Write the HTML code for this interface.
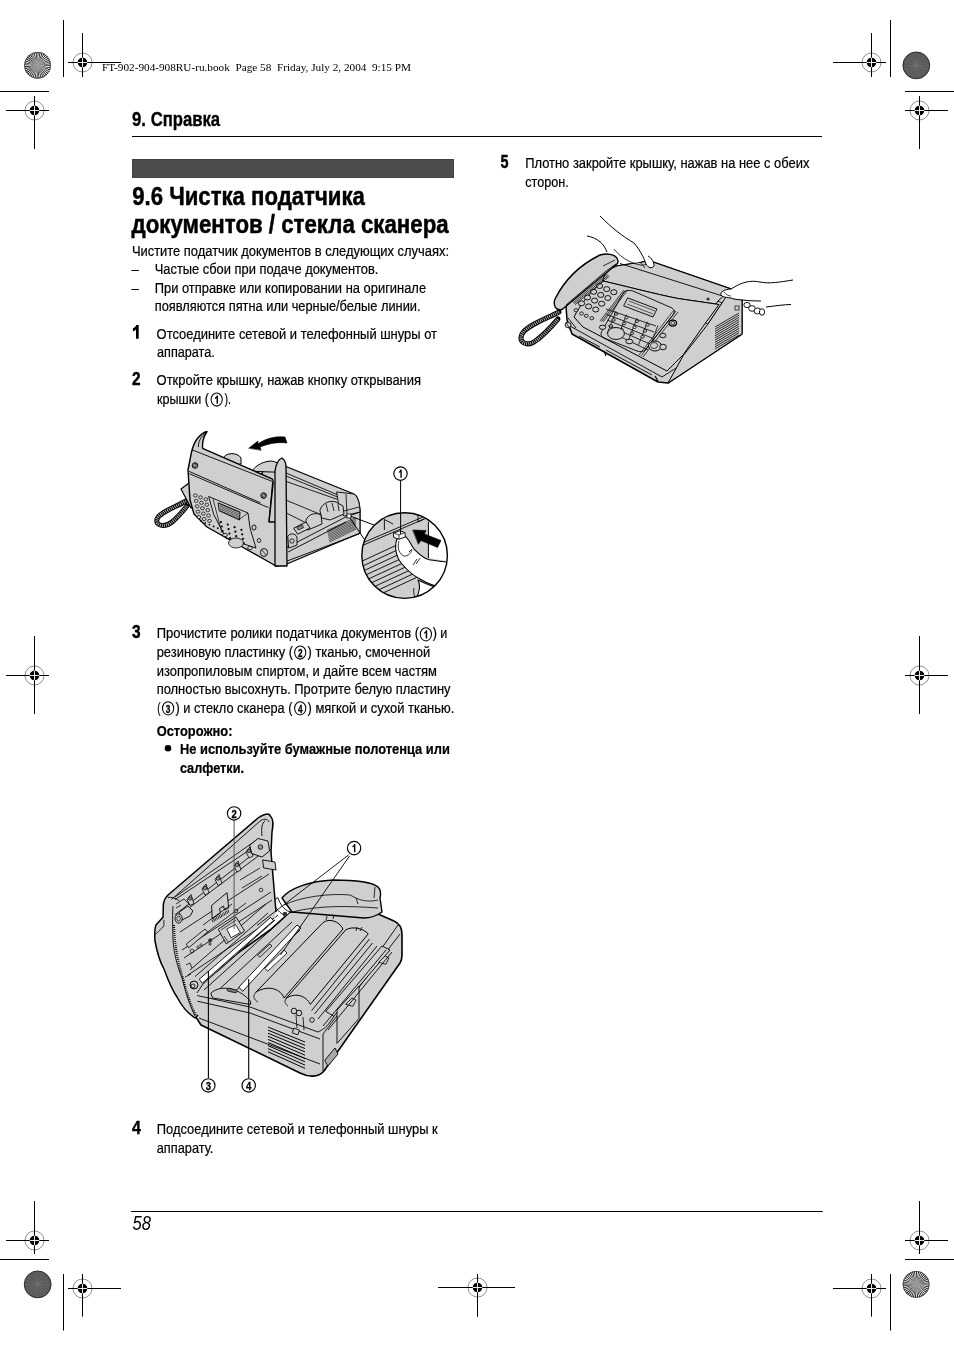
<!DOCTYPE html>
<html><head><meta charset="utf-8"><title>9.6</title>
<style>html,body{margin:0;padding:0;background:#fff;width:954px;height:1351px;overflow:hidden}svg{display:block;filter:grayscale(1)}</style>
</head><body>
<svg width="954" height="1351" viewBox="0 0 954 1351">
<line x1="63.5" y1="20" x2="63.5" y2="77" stroke="#000" stroke-width="1"/>
<circle cx="82.5" cy="62.5" r="9.5" fill="none" stroke="#444" stroke-width="0.6"/>
<circle cx="82.5" cy="62.5" r="4.8" fill="#000"/>
<line x1="68" y1="62.5" x2="121" y2="62.5" stroke="#000" stroke-width="1"/>
<line x1="82.5" y1="33" x2="82.5" y2="77" stroke="#000" stroke-width="1"/>
<line x1="77.7" y1="62.5" x2="87.3" y2="62.5" stroke="#fff" stroke-width="0.9"/>
<line x1="82.5" y1="57.7" x2="82.5" y2="67.3" stroke="#fff" stroke-width="0.9"/>
<circle cx="37.55" cy="65.3" r="13.4" fill="#fff"/>
<path d="M37.55,65.3 L50.95,65.30 L50.91,66.35Z" fill="#111"/>
<path d="M37.55,65.3 L50.79,67.40 L50.58,68.43Z" fill="#111"/>
<path d="M37.55,65.3 L50.29,69.44 L49.93,70.43Z" fill="#111"/>
<path d="M37.55,65.3 L49.49,71.38 L48.98,72.30Z" fill="#111"/>
<path d="M37.55,65.3 L48.39,73.18 L47.74,74.00Z" fill="#111"/>
<path d="M37.55,65.3 L47.03,74.78 L46.25,75.49Z" fill="#111"/>
<path d="M37.55,65.3 L45.43,76.14 L44.55,76.73Z" fill="#111"/>
<path d="M37.55,65.3 L43.63,77.24 L42.68,77.68Z" fill="#111"/>
<path d="M37.55,65.3 L41.69,78.04 L40.68,78.33Z" fill="#111"/>
<path d="M37.55,65.3 L39.65,78.54 L38.60,78.66Z" fill="#111"/>
<path d="M37.55,65.3 L37.55,78.70 L36.50,78.66Z" fill="#111"/>
<path d="M37.55,65.3 L35.45,78.54 L34.42,78.33Z" fill="#111"/>
<path d="M37.55,65.3 L33.41,78.04 L32.42,77.68Z" fill="#111"/>
<path d="M37.55,65.3 L31.47,77.24 L30.55,76.73Z" fill="#111"/>
<path d="M37.55,65.3 L29.67,76.14 L28.85,75.49Z" fill="#111"/>
<path d="M37.55,65.3 L28.07,74.78 L27.36,74.00Z" fill="#111"/>
<path d="M37.55,65.3 L26.71,73.18 L26.12,72.30Z" fill="#111"/>
<path d="M37.55,65.3 L25.61,71.38 L25.17,70.43Z" fill="#111"/>
<path d="M37.55,65.3 L24.81,69.44 L24.52,68.43Z" fill="#111"/>
<path d="M37.55,65.3 L24.31,67.40 L24.19,66.35Z" fill="#111"/>
<path d="M37.55,65.3 L24.15,65.30 L24.19,64.25Z" fill="#111"/>
<path d="M37.55,65.3 L24.31,63.20 L24.52,62.17Z" fill="#111"/>
<path d="M37.55,65.3 L24.81,61.16 L25.17,60.17Z" fill="#111"/>
<path d="M37.55,65.3 L25.61,59.22 L26.12,58.30Z" fill="#111"/>
<path d="M37.55,65.3 L26.71,57.42 L27.36,56.60Z" fill="#111"/>
<path d="M37.55,65.3 L28.07,55.82 L28.85,55.11Z" fill="#111"/>
<path d="M37.55,65.3 L29.67,54.46 L30.55,53.87Z" fill="#111"/>
<path d="M37.55,65.3 L31.47,53.36 L32.42,52.92Z" fill="#111"/>
<path d="M37.55,65.3 L33.41,52.56 L34.42,52.27Z" fill="#111"/>
<path d="M37.55,65.3 L35.45,52.06 L36.50,51.94Z" fill="#111"/>
<path d="M37.55,65.3 L37.55,51.90 L38.60,51.94Z" fill="#111"/>
<path d="M37.55,65.3 L39.65,52.06 L40.68,52.27Z" fill="#111"/>
<path d="M37.55,65.3 L41.69,52.56 L42.68,52.92Z" fill="#111"/>
<path d="M37.55,65.3 L43.63,53.36 L44.55,53.87Z" fill="#111"/>
<path d="M37.55,65.3 L45.43,54.46 L46.25,55.11Z" fill="#111"/>
<path d="M37.55,65.3 L47.03,55.82 L47.74,56.60Z" fill="#111"/>
<path d="M37.55,65.3 L48.39,57.42 L48.98,58.30Z" fill="#111"/>
<path d="M37.55,65.3 L49.49,59.22 L49.93,60.17Z" fill="#111"/>
<path d="M37.55,65.3 L50.29,61.16 L50.58,62.17Z" fill="#111"/>
<path d="M37.55,65.3 L50.79,63.20 L50.91,64.25Z" fill="#111"/>
<circle cx="37.55" cy="65.3" r="13.0" fill="none" stroke="#333" stroke-width="0.8"/>
<line x1="0" y1="91.5" x2="49" y2="91.5" stroke="#000" stroke-width="1"/>
<circle cx="34.5" cy="110.5" r="9.5" fill="none" stroke="#444" stroke-width="0.6"/>
<circle cx="34.5" cy="110.5" r="4.8" fill="#000"/>
<line x1="6" y1="110.5" x2="49" y2="110.5" stroke="#000" stroke-width="1"/>
<line x1="34.5" y1="96" x2="34.5" y2="149" stroke="#000" stroke-width="1"/>
<line x1="29.7" y1="110.5" x2="39.3" y2="110.5" stroke="#fff" stroke-width="0.9"/>
<line x1="34.5" y1="105.7" x2="34.5" y2="115.3" stroke="#fff" stroke-width="0.9"/>
<circle cx="871.5" cy="62.5" r="9.5" fill="none" stroke="#444" stroke-width="0.6"/>
<circle cx="871.5" cy="62.5" r="4.8" fill="#000"/>
<line x1="833" y1="62.5" x2="886" y2="62.5" stroke="#000" stroke-width="1"/>
<line x1="871.5" y1="33" x2="871.5" y2="77" stroke="#000" stroke-width="1"/>
<line x1="866.7" y1="62.5" x2="876.3" y2="62.5" stroke="#fff" stroke-width="0.9"/>
<line x1="871.5" y1="57.7" x2="871.5" y2="67.3" stroke="#fff" stroke-width="0.9"/>
<line x1="890.5" y1="20" x2="890.5" y2="77" stroke="#000" stroke-width="1"/>
<circle cx="916.3" cy="65.4" r="13.4" fill="#595959" stroke="#2a2a2a" stroke-width="1"/>
<line x1="916.3" y1="65.4" x2="928.70" y2="65.40" stroke="#7a7a7a" stroke-width="0.6" opacity="0.7"/>
<line x1="916.3" y1="65.4" x2="928.09" y2="69.23" stroke="#7a7a7a" stroke-width="0.6" opacity="0.7"/>
<line x1="916.3" y1="65.4" x2="926.33" y2="72.69" stroke="#7a7a7a" stroke-width="0.6" opacity="0.7"/>
<line x1="916.3" y1="65.4" x2="923.59" y2="75.43" stroke="#7a7a7a" stroke-width="0.6" opacity="0.7"/>
<line x1="916.3" y1="65.4" x2="920.13" y2="77.19" stroke="#7a7a7a" stroke-width="0.6" opacity="0.7"/>
<line x1="916.3" y1="65.4" x2="916.30" y2="77.80" stroke="#7a7a7a" stroke-width="0.6" opacity="0.7"/>
<line x1="916.3" y1="65.4" x2="912.47" y2="77.19" stroke="#7a7a7a" stroke-width="0.6" opacity="0.7"/>
<line x1="916.3" y1="65.4" x2="909.01" y2="75.43" stroke="#7a7a7a" stroke-width="0.6" opacity="0.7"/>
<line x1="916.3" y1="65.4" x2="906.27" y2="72.69" stroke="#7a7a7a" stroke-width="0.6" opacity="0.7"/>
<line x1="916.3" y1="65.4" x2="904.51" y2="69.23" stroke="#7a7a7a" stroke-width="0.6" opacity="0.7"/>
<line x1="916.3" y1="65.4" x2="903.90" y2="65.40" stroke="#7a7a7a" stroke-width="0.6" opacity="0.7"/>
<line x1="916.3" y1="65.4" x2="904.51" y2="61.57" stroke="#7a7a7a" stroke-width="0.6" opacity="0.7"/>
<line x1="916.3" y1="65.4" x2="906.27" y2="58.11" stroke="#7a7a7a" stroke-width="0.6" opacity="0.7"/>
<line x1="916.3" y1="65.4" x2="909.01" y2="55.37" stroke="#7a7a7a" stroke-width="0.6" opacity="0.7"/>
<line x1="916.3" y1="65.4" x2="912.47" y2="53.61" stroke="#7a7a7a" stroke-width="0.6" opacity="0.7"/>
<line x1="916.3" y1="65.4" x2="916.30" y2="53.00" stroke="#7a7a7a" stroke-width="0.6" opacity="0.7"/>
<line x1="916.3" y1="65.4" x2="920.13" y2="53.61" stroke="#7a7a7a" stroke-width="0.6" opacity="0.7"/>
<line x1="916.3" y1="65.4" x2="923.59" y2="55.37" stroke="#7a7a7a" stroke-width="0.6" opacity="0.7"/>
<line x1="916.3" y1="65.4" x2="926.33" y2="58.11" stroke="#7a7a7a" stroke-width="0.6" opacity="0.7"/>
<line x1="916.3" y1="65.4" x2="928.09" y2="61.57" stroke="#7a7a7a" stroke-width="0.6" opacity="0.7"/>
<line x1="905" y1="91.5" x2="954" y2="91.5" stroke="#000" stroke-width="1"/>
<circle cx="919.5" cy="110.5" r="9.5" fill="none" stroke="#444" stroke-width="0.6"/>
<circle cx="919.5" cy="110.5" r="4.8" fill="#000"/>
<line x1="905" y1="110.5" x2="948" y2="110.5" stroke="#000" stroke-width="1"/>
<line x1="919.5" y1="96" x2="919.5" y2="149" stroke="#000" stroke-width="1"/>
<line x1="914.7" y1="110.5" x2="924.3" y2="110.5" stroke="#fff" stroke-width="0.9"/>
<line x1="919.5" y1="105.7" x2="919.5" y2="115.3" stroke="#fff" stroke-width="0.9"/>
<circle cx="34.5" cy="675.5" r="9.5" fill="none" stroke="#444" stroke-width="0.6"/>
<circle cx="34.5" cy="675.5" r="4.8" fill="#000"/>
<line x1="6" y1="675.5" x2="49" y2="675.5" stroke="#000" stroke-width="1"/>
<line x1="34.5" y1="636" x2="34.5" y2="714" stroke="#000" stroke-width="1"/>
<line x1="29.7" y1="675.5" x2="39.3" y2="675.5" stroke="#fff" stroke-width="0.9"/>
<line x1="34.5" y1="670.7" x2="34.5" y2="680.3" stroke="#fff" stroke-width="0.9"/>
<circle cx="919.5" cy="675.5" r="9.5" fill="none" stroke="#444" stroke-width="0.6"/>
<circle cx="919.5" cy="675.5" r="4.8" fill="#000"/>
<line x1="905" y1="675.5" x2="948" y2="675.5" stroke="#000" stroke-width="1"/>
<line x1="919.5" y1="636" x2="919.5" y2="714" stroke="#000" stroke-width="1"/>
<line x1="914.7" y1="675.5" x2="924.3" y2="675.5" stroke="#fff" stroke-width="0.9"/>
<line x1="919.5" y1="670.7" x2="919.5" y2="680.3" stroke="#fff" stroke-width="0.9"/>
<circle cx="34.5" cy="1240.5" r="9.5" fill="none" stroke="#444" stroke-width="0.6"/>
<circle cx="34.5" cy="1240.5" r="4.8" fill="#000"/>
<line x1="6" y1="1240.5" x2="49" y2="1240.5" stroke="#000" stroke-width="1"/>
<line x1="34.5" y1="1201" x2="34.5" y2="1254" stroke="#000" stroke-width="1"/>
<line x1="29.7" y1="1240.5" x2="39.3" y2="1240.5" stroke="#fff" stroke-width="0.9"/>
<line x1="34.5" y1="1235.7" x2="34.5" y2="1245.3" stroke="#fff" stroke-width="0.9"/>
<line x1="0" y1="1259.5" x2="49" y2="1259.5" stroke="#000" stroke-width="1"/>
<circle cx="37.7" cy="1284.4" r="13.4" fill="#595959" stroke="#2a2a2a" stroke-width="1"/>
<line x1="37.7" y1="1284.4" x2="50.10" y2="1284.40" stroke="#7a7a7a" stroke-width="0.6" opacity="0.7"/>
<line x1="37.7" y1="1284.4" x2="49.49" y2="1288.23" stroke="#7a7a7a" stroke-width="0.6" opacity="0.7"/>
<line x1="37.7" y1="1284.4" x2="47.73" y2="1291.69" stroke="#7a7a7a" stroke-width="0.6" opacity="0.7"/>
<line x1="37.7" y1="1284.4" x2="44.99" y2="1294.43" stroke="#7a7a7a" stroke-width="0.6" opacity="0.7"/>
<line x1="37.7" y1="1284.4" x2="41.53" y2="1296.19" stroke="#7a7a7a" stroke-width="0.6" opacity="0.7"/>
<line x1="37.7" y1="1284.4" x2="37.70" y2="1296.80" stroke="#7a7a7a" stroke-width="0.6" opacity="0.7"/>
<line x1="37.7" y1="1284.4" x2="33.87" y2="1296.19" stroke="#7a7a7a" stroke-width="0.6" opacity="0.7"/>
<line x1="37.7" y1="1284.4" x2="30.41" y2="1294.43" stroke="#7a7a7a" stroke-width="0.6" opacity="0.7"/>
<line x1="37.7" y1="1284.4" x2="27.67" y2="1291.69" stroke="#7a7a7a" stroke-width="0.6" opacity="0.7"/>
<line x1="37.7" y1="1284.4" x2="25.91" y2="1288.23" stroke="#7a7a7a" stroke-width="0.6" opacity="0.7"/>
<line x1="37.7" y1="1284.4" x2="25.30" y2="1284.40" stroke="#7a7a7a" stroke-width="0.6" opacity="0.7"/>
<line x1="37.7" y1="1284.4" x2="25.91" y2="1280.57" stroke="#7a7a7a" stroke-width="0.6" opacity="0.7"/>
<line x1="37.7" y1="1284.4" x2="27.67" y2="1277.11" stroke="#7a7a7a" stroke-width="0.6" opacity="0.7"/>
<line x1="37.7" y1="1284.4" x2="30.41" y2="1274.37" stroke="#7a7a7a" stroke-width="0.6" opacity="0.7"/>
<line x1="37.7" y1="1284.4" x2="33.87" y2="1272.61" stroke="#7a7a7a" stroke-width="0.6" opacity="0.7"/>
<line x1="37.7" y1="1284.4" x2="37.70" y2="1272.00" stroke="#7a7a7a" stroke-width="0.6" opacity="0.7"/>
<line x1="37.7" y1="1284.4" x2="41.53" y2="1272.61" stroke="#7a7a7a" stroke-width="0.6" opacity="0.7"/>
<line x1="37.7" y1="1284.4" x2="44.99" y2="1274.37" stroke="#7a7a7a" stroke-width="0.6" opacity="0.7"/>
<line x1="37.7" y1="1284.4" x2="47.73" y2="1277.11" stroke="#7a7a7a" stroke-width="0.6" opacity="0.7"/>
<line x1="37.7" y1="1284.4" x2="49.49" y2="1280.57" stroke="#7a7a7a" stroke-width="0.6" opacity="0.7"/>
<line x1="63.5" y1="1274" x2="63.5" y2="1330.5" stroke="#000" stroke-width="1"/>
<circle cx="82.5" cy="1288.5" r="9.5" fill="none" stroke="#444" stroke-width="0.6"/>
<circle cx="82.5" cy="1288.5" r="4.8" fill="#000"/>
<line x1="68" y1="1288.5" x2="121" y2="1288.5" stroke="#000" stroke-width="1"/>
<line x1="82.5" y1="1274" x2="82.5" y2="1316.6" stroke="#000" stroke-width="1"/>
<line x1="77.7" y1="1288.5" x2="87.3" y2="1288.5" stroke="#fff" stroke-width="0.9"/>
<line x1="82.5" y1="1283.7" x2="82.5" y2="1293.3" stroke="#fff" stroke-width="0.9"/>
<circle cx="477.5" cy="1287.5" r="9.5" fill="none" stroke="#444" stroke-width="0.6"/>
<circle cx="477.5" cy="1287.5" r="4.8" fill="#000"/>
<line x1="438" y1="1287.5" x2="515" y2="1287.5" stroke="#000" stroke-width="1"/>
<line x1="477.5" y1="1274" x2="477.5" y2="1316.7" stroke="#000" stroke-width="1"/>
<line x1="472.7" y1="1287.5" x2="482.3" y2="1287.5" stroke="#fff" stroke-width="0.9"/>
<line x1="477.5" y1="1282.7" x2="477.5" y2="1292.3" stroke="#fff" stroke-width="0.9"/>
<circle cx="919.5" cy="1240.5" r="9.5" fill="none" stroke="#444" stroke-width="0.6"/>
<circle cx="919.5" cy="1240.5" r="4.8" fill="#000"/>
<line x1="905" y1="1240.5" x2="948" y2="1240.5" stroke="#000" stroke-width="1"/>
<line x1="919.5" y1="1201" x2="919.5" y2="1254" stroke="#000" stroke-width="1"/>
<line x1="914.7" y1="1240.5" x2="924.3" y2="1240.5" stroke="#fff" stroke-width="0.9"/>
<line x1="919.5" y1="1235.7" x2="919.5" y2="1245.3" stroke="#fff" stroke-width="0.9"/>
<line x1="905" y1="1259.5" x2="954" y2="1259.5" stroke="#000" stroke-width="1"/>
<circle cx="916.1" cy="1284.4" r="13.4" fill="#fff"/>
<path d="M916.1,1284.4 L929.50,1284.40 L929.46,1285.45Z" fill="#111"/>
<path d="M916.1,1284.4 L929.34,1286.50 L929.13,1287.53Z" fill="#111"/>
<path d="M916.1,1284.4 L928.84,1288.54 L928.48,1289.53Z" fill="#111"/>
<path d="M916.1,1284.4 L928.04,1290.48 L927.53,1291.40Z" fill="#111"/>
<path d="M916.1,1284.4 L926.94,1292.28 L926.29,1293.10Z" fill="#111"/>
<path d="M916.1,1284.4 L925.58,1293.88 L924.80,1294.59Z" fill="#111"/>
<path d="M916.1,1284.4 L923.98,1295.24 L923.10,1295.83Z" fill="#111"/>
<path d="M916.1,1284.4 L922.18,1296.34 L921.23,1296.78Z" fill="#111"/>
<path d="M916.1,1284.4 L920.24,1297.14 L919.23,1297.43Z" fill="#111"/>
<path d="M916.1,1284.4 L918.20,1297.64 L917.15,1297.76Z" fill="#111"/>
<path d="M916.1,1284.4 L916.10,1297.80 L915.05,1297.76Z" fill="#111"/>
<path d="M916.1,1284.4 L914.00,1297.64 L912.97,1297.43Z" fill="#111"/>
<path d="M916.1,1284.4 L911.96,1297.14 L910.97,1296.78Z" fill="#111"/>
<path d="M916.1,1284.4 L910.02,1296.34 L909.10,1295.83Z" fill="#111"/>
<path d="M916.1,1284.4 L908.22,1295.24 L907.40,1294.59Z" fill="#111"/>
<path d="M916.1,1284.4 L906.62,1293.88 L905.91,1293.10Z" fill="#111"/>
<path d="M916.1,1284.4 L905.26,1292.28 L904.67,1291.40Z" fill="#111"/>
<path d="M916.1,1284.4 L904.16,1290.48 L903.72,1289.53Z" fill="#111"/>
<path d="M916.1,1284.4 L903.36,1288.54 L903.07,1287.53Z" fill="#111"/>
<path d="M916.1,1284.4 L902.86,1286.50 L902.74,1285.45Z" fill="#111"/>
<path d="M916.1,1284.4 L902.70,1284.40 L902.74,1283.35Z" fill="#111"/>
<path d="M916.1,1284.4 L902.86,1282.30 L903.07,1281.27Z" fill="#111"/>
<path d="M916.1,1284.4 L903.36,1280.26 L903.72,1279.27Z" fill="#111"/>
<path d="M916.1,1284.4 L904.16,1278.32 L904.67,1277.40Z" fill="#111"/>
<path d="M916.1,1284.4 L905.26,1276.52 L905.91,1275.70Z" fill="#111"/>
<path d="M916.1,1284.4 L906.62,1274.92 L907.40,1274.21Z" fill="#111"/>
<path d="M916.1,1284.4 L908.22,1273.56 L909.10,1272.97Z" fill="#111"/>
<path d="M916.1,1284.4 L910.02,1272.46 L910.97,1272.02Z" fill="#111"/>
<path d="M916.1,1284.4 L911.96,1271.66 L912.97,1271.37Z" fill="#111"/>
<path d="M916.1,1284.4 L914.00,1271.16 L915.05,1271.04Z" fill="#111"/>
<path d="M916.1,1284.4 L916.10,1271.00 L917.15,1271.04Z" fill="#111"/>
<path d="M916.1,1284.4 L918.20,1271.16 L919.23,1271.37Z" fill="#111"/>
<path d="M916.1,1284.4 L920.24,1271.66 L921.23,1272.02Z" fill="#111"/>
<path d="M916.1,1284.4 L922.18,1272.46 L923.10,1272.97Z" fill="#111"/>
<path d="M916.1,1284.4 L923.98,1273.56 L924.80,1274.21Z" fill="#111"/>
<path d="M916.1,1284.4 L925.58,1274.92 L926.29,1275.70Z" fill="#111"/>
<path d="M916.1,1284.4 L926.94,1276.52 L927.53,1277.40Z" fill="#111"/>
<path d="M916.1,1284.4 L928.04,1278.32 L928.48,1279.27Z" fill="#111"/>
<path d="M916.1,1284.4 L928.84,1280.26 L929.13,1281.27Z" fill="#111"/>
<path d="M916.1,1284.4 L929.34,1282.30 L929.46,1283.35Z" fill="#111"/>
<circle cx="916.1" cy="1284.4" r="13.0" fill="none" stroke="#333" stroke-width="0.8"/>
<circle cx="871.5" cy="1288.5" r="9.5" fill="none" stroke="#444" stroke-width="0.6"/>
<circle cx="871.5" cy="1288.5" r="4.8" fill="#000"/>
<line x1="833" y1="1288.5" x2="886" y2="1288.5" stroke="#000" stroke-width="1"/>
<line x1="871.5" y1="1274" x2="871.5" y2="1316.6" stroke="#000" stroke-width="1"/>
<line x1="866.7" y1="1288.5" x2="876.3" y2="1288.5" stroke="#fff" stroke-width="0.9"/>
<line x1="871.5" y1="1283.7" x2="871.5" y2="1293.3" stroke="#fff" stroke-width="0.9"/>
<line x1="890.5" y1="1274" x2="890.5" y2="1330.5" stroke="#000" stroke-width="1"/>
<text x="102" y="70.9" font-family="Liberation Serif, serif" font-size="10" font-weight="normal" font-style="normal" fill="#000" textLength="309.0" lengthAdjust="spacingAndGlyphs">FT-902-904-908RU-ru.book  Page 58  Friday, July 2, 2004  9:15 PM</text>
<text x="132.1" y="126.1" font-family="Liberation Sans, sans-serif" font-size="19.5" font-weight="bold" font-style="normal" fill="#000" stroke="#000" stroke-width="0.35" textLength="88.0" lengthAdjust="spacingAndGlyphs">9. Справка</text>
<line x1="132" y1="136.5" x2="822" y2="136.5" stroke="#000" stroke-width="1.2"/>
<rect x="132.5" y="159.5" width="321" height="18" fill="#4d4d4d" stroke="#424242" stroke-width="1"/>
<text x="132.2" y="205" font-family="Liberation Sans, sans-serif" font-size="25" font-weight="bold" font-style="normal" fill="#000" stroke="#000" stroke-width="0.5" textLength="232.6" lengthAdjust="spacingAndGlyphs">9.6 Чистка податчика</text>
<text x="131.6" y="233.3" font-family="Liberation Sans, sans-serif" font-size="25" font-weight="bold" font-style="normal" fill="#000" stroke="#000" stroke-width="0.5" textLength="317.0" lengthAdjust="spacingAndGlyphs">документов / стекла сканера</text>
<text x="131.9" y="255.8" font-family="Liberation Sans, sans-serif" font-size="13.8" font-weight="normal" font-style="normal" fill="#000" stroke="#000" stroke-width="0.2" textLength="317.1" lengthAdjust="spacingAndGlyphs">Чистите податчик документов в следующих случаях:</text>
<text x="131.6" y="273.9" font-family="Liberation Sans, sans-serif" font-size="13.8" font-weight="normal" font-style="normal" fill="#000" stroke="#000" stroke-width="0.2" textLength="7.4" lengthAdjust="spacingAndGlyphs">–</text>
<text x="154.7" y="273.9" font-family="Liberation Sans, sans-serif" font-size="13.8" font-weight="normal" font-style="normal" fill="#000" stroke="#000" stroke-width="0.2" textLength="223.7" lengthAdjust="spacingAndGlyphs">Частые сбои при подаче документов.</text>
<text x="131.6" y="292.5" font-family="Liberation Sans, sans-serif" font-size="13.8" font-weight="normal" font-style="normal" fill="#000" stroke="#000" stroke-width="0.2" textLength="7.4" lengthAdjust="spacingAndGlyphs">–</text>
<text x="154.7" y="292.5" font-family="Liberation Sans, sans-serif" font-size="13.8" font-weight="normal" font-style="normal" fill="#000" stroke="#000" stroke-width="0.2" textLength="271.4" lengthAdjust="spacingAndGlyphs">При отправке или копировании на оригинале</text>
<text x="154.7" y="310.9" font-family="Liberation Sans, sans-serif" font-size="13.8" font-weight="normal" font-style="normal" fill="#000" stroke="#000" stroke-width="0.2" textLength="265.9" lengthAdjust="spacingAndGlyphs">появляются пятна или черные/белые линии.</text>
<path d="M132.9,328.3 C134.6,327.7 135.8,326.6 136.2,325 L138.7,325 L138.7,338.8 L136,338.8 L136,329.4 C135.2,330.3 134.1,330.9 132.9,331.3 Z" fill="#000"/>
<text x="156.6" y="339" font-family="Liberation Sans, sans-serif" font-size="13.8" font-weight="normal" font-style="normal" fill="#000" stroke="#000" stroke-width="0.2" textLength="280.4" lengthAdjust="spacingAndGlyphs">Отсоедините сетевой и телефонный шнуры от</text>
<text x="157" y="356.8" font-family="Liberation Sans, sans-serif" font-size="13.8" font-weight="normal" font-style="normal" fill="#000" stroke="#000" stroke-width="0.2" textLength="57.8" lengthAdjust="spacingAndGlyphs">аппарата.</text>
<text x="132" y="384.6" font-family="Liberation Sans, sans-serif" font-size="18.2" font-weight="bold" font-style="normal" fill="#000" stroke="#000" stroke-width="0.45" textLength="8.6" lengthAdjust="spacingAndGlyphs">2</text>
<text x="156.6" y="384.5" font-family="Liberation Sans, sans-serif" font-size="13.8" font-weight="normal" font-style="normal" fill="#000" stroke="#000" stroke-width="0.2" textLength="264.4" lengthAdjust="spacingAndGlyphs">Откройте крышку, нажав кнопку открывания</text>
<text x="157" y="403.5" font-family="Liberation Sans, sans-serif" font-size="13.8" font-weight="normal" font-style="normal" fill="#000" stroke="#000" stroke-width="0.2" textLength="52.0" lengthAdjust="spacingAndGlyphs">крышки (</text>
<ellipse cx="216.7" cy="399.5" rx="5.6" ry="6.6" fill="#fff" stroke="#000" stroke-width="1.05"/>
<path d="M214.97,397.58 C215.99,397.08 216.55,396.24 216.65,395.40 L217.98,395.40 L217.98,403.80 L216.55,403.80 L216.55,397.92 C216.10,398.42 215.42,398.76 214.97,398.93 Z" fill="#000"/>
<text x="224.5" y="403.5" font-family="Liberation Sans, sans-serif" font-size="13.8" font-weight="normal" font-style="normal" fill="#000" stroke="#000" stroke-width="0.2" textLength="6.5" lengthAdjust="spacingAndGlyphs">).</text>
<text x="132.1" y="638.3" font-family="Liberation Sans, sans-serif" font-size="18.2" font-weight="bold" font-style="normal" fill="#000" stroke="#000" stroke-width="0.45" textLength="8.6" lengthAdjust="spacingAndGlyphs">3</text>
<text x="156.7" y="638.3" font-family="Liberation Sans, sans-serif" font-size="13.8" font-weight="normal" font-style="normal" fill="#000" stroke="#000" stroke-width="0.2" textLength="262.3" lengthAdjust="spacingAndGlyphs">Прочистите ролики податчика документов (</text>
<ellipse cx="425.9" cy="634.3" rx="5.6" ry="6.6" fill="#fff" stroke="#000" stroke-width="1.05"/>
<path d="M424.17,632.38 C425.19,631.88 425.75,631.04 425.85,630.20 L427.18,630.20 L427.18,638.60 L425.75,638.60 L425.75,632.72 C425.30,633.22 424.62,633.56 424.17,633.73 Z" fill="#000"/>
<text x="432.7" y="638.3" font-family="Liberation Sans, sans-serif" font-size="13.8" font-weight="normal" font-style="normal" fill="#000" stroke="#000" stroke-width="0.2" textLength="14.7" lengthAdjust="spacingAndGlyphs">) и</text>
<text x="156.7" y="656.8" font-family="Liberation Sans, sans-serif" font-size="13.8" font-weight="normal" font-style="normal" fill="#000" stroke="#000" stroke-width="0.2" textLength="136.3" lengthAdjust="spacingAndGlyphs">резиновую пластинку (</text>
<ellipse cx="300.2" cy="652.5" rx="5.6" ry="6.6" fill="#fff" stroke="#000" stroke-width="1.05"/>
<text x="297.90" y="656.80" font-family="Liberation Sans, sans-serif" font-size="11.73" font-weight="bold" fill="#000" stroke="#000" stroke-width="0.3" textLength="4.6" lengthAdjust="spacingAndGlyphs">2</text>
<text x="307.5" y="656.8" font-family="Liberation Sans, sans-serif" font-size="13.8" font-weight="normal" font-style="normal" fill="#000" stroke="#000" stroke-width="0.2" textLength="122.7" lengthAdjust="spacingAndGlyphs">) тканью, смоченной</text>
<text x="156.7" y="675.5" font-family="Liberation Sans, sans-serif" font-size="13.8" font-weight="normal" font-style="normal" fill="#000" stroke="#000" stroke-width="0.2" textLength="280.3" lengthAdjust="spacingAndGlyphs">изопропиловым спиртом, и дайте всем частям</text>
<text x="156.7" y="694" font-family="Liberation Sans, sans-serif" font-size="13.8" font-weight="normal" font-style="normal" fill="#000" stroke="#000" stroke-width="0.2" textLength="293.9" lengthAdjust="spacingAndGlyphs">полностью высохнуть. Протрите белую пластину</text>
<text x="157.2" y="712.5" font-family="Liberation Sans, sans-serif" font-size="13.8" font-weight="normal" font-style="normal" fill="#000" stroke="#000" stroke-width="0.2" textLength="3.3" lengthAdjust="spacingAndGlyphs">(</text>
<ellipse cx="168.1" cy="708.3" rx="5.6" ry="6.6" fill="#fff" stroke="#000" stroke-width="1.05"/>
<text x="165.80" y="712.60" font-family="Liberation Sans, sans-serif" font-size="11.73" font-weight="bold" fill="#000" stroke="#000" stroke-width="0.3" textLength="4.6" lengthAdjust="spacingAndGlyphs">3</text>
<text x="175.5" y="712.5" font-family="Liberation Sans, sans-serif" font-size="13.8" font-weight="normal" font-style="normal" fill="#000" stroke="#000" stroke-width="0.2" textLength="117.0" lengthAdjust="spacingAndGlyphs">) и стекло сканера (</text>
<ellipse cx="300.2" cy="708.3" rx="5.6" ry="6.6" fill="#fff" stroke="#000" stroke-width="1.05"/>
<text x="297.90" y="712.60" font-family="Liberation Sans, sans-serif" font-size="11.73" font-weight="bold" fill="#000" stroke="#000" stroke-width="0.3" textLength="4.6" lengthAdjust="spacingAndGlyphs">4</text>
<text x="307.5" y="712.5" font-family="Liberation Sans, sans-serif" font-size="13.8" font-weight="normal" font-style="normal" fill="#000" stroke="#000" stroke-width="0.2" textLength="146.8" lengthAdjust="spacingAndGlyphs">) мягкой и сухой тканью.</text>
<text x="156.7" y="736" font-family="Liberation Sans, sans-serif" font-size="13.8" font-weight="bold" font-style="normal" fill="#000" stroke="#000" stroke-width="0.2" textLength="75.8" lengthAdjust="spacingAndGlyphs">Осторожно:</text>
<circle cx="168" cy="748.3" r="3.3" fill="#000"/>
<text x="179.9" y="754.2" font-family="Liberation Sans, sans-serif" font-size="13.8" font-weight="bold" font-style="normal" fill="#000" stroke="#000" stroke-width="0.2" textLength="270.0" lengthAdjust="spacingAndGlyphs">Не используйте бумажные полотенца или</text>
<text x="179.9" y="772.9" font-family="Liberation Sans, sans-serif" font-size="13.8" font-weight="bold" font-style="normal" fill="#000" stroke="#000" stroke-width="0.2" textLength="64.1" lengthAdjust="spacingAndGlyphs">салфетки.</text>
<text x="132.1" y="1133.7" font-family="Liberation Sans, sans-serif" font-size="18.2" font-weight="bold" font-style="normal" fill="#000" stroke="#000" stroke-width="0.45" textLength="8.9" lengthAdjust="spacingAndGlyphs">4</text>
<text x="156.7" y="1133.7" font-family="Liberation Sans, sans-serif" font-size="13.8" font-weight="normal" font-style="normal" fill="#000" stroke="#000" stroke-width="0.2" textLength="281.0" lengthAdjust="spacingAndGlyphs">Подсоедините сетевой и телефонный шнуры к</text>
<text x="156.7" y="1152.8" font-family="Liberation Sans, sans-serif" font-size="13.8" font-weight="normal" font-style="normal" fill="#000" stroke="#000" stroke-width="0.2" textLength="56.7" lengthAdjust="spacingAndGlyphs">аппарату.</text>
<line x1="131" y1="1211.5" x2="822.8" y2="1211.5" stroke="#000" stroke-width="1.2"/>
<text x="132.5" y="1229.9" font-family="Liberation Sans, sans-serif" font-size="19.5" font-weight="normal" font-style="italic" fill="#000" textLength="18.5" lengthAdjust="spacingAndGlyphs">58</text>
<text x="500.4" y="167.7" font-family="Liberation Sans, sans-serif" font-size="18.2" font-weight="bold" font-style="normal" fill="#000" stroke="#000" stroke-width="0.45" textLength="8.0" lengthAdjust="spacingAndGlyphs">5</text>
<text x="525.2" y="167.8" font-family="Liberation Sans, sans-serif" font-size="13.8" font-weight="normal" font-style="normal" fill="#000" stroke="#000" stroke-width="0.2" textLength="284.2" lengthAdjust="spacingAndGlyphs">Плотно закройте крышку, нажав на нее с обеих</text>
<text x="525.2" y="186.9" font-family="Liberation Sans, sans-serif" font-size="13.8" font-weight="normal" font-style="normal" fill="#000" stroke="#000" stroke-width="0.2" textLength="43.6" lengthAdjust="spacingAndGlyphs">сторон.</text>
<path d="M186,501 C176,507 160,512 157,519 C155,527 166,527 172,522 C178,517 183,511 187,506" fill="none" stroke="#000" stroke-width="5" stroke-linecap="round"/>
<path d="M186,501 C176,507 160,512 157,519 C155,527 166,527 172,522 C178,517 183,511 187,506" fill="none" stroke="#bdbdbd" stroke-width="3.2" stroke-dasharray="0.9 1.1"/>
<path d="M181,489 L193,480 L201,482 L203,506 L191,508 Z" fill="#cfcfcf" stroke="#000" stroke-width="1.2" stroke-linejoin="round" stroke-linecap="round" />
<path d="M262,470 L268,462 L286,466.5 L354,494 C357,496 359,501 359.6,506.6 L360.1,511 L360.1,533 L288,563.5 L276,566 L266,530 Z" fill="#cfcfcf" stroke="#000" stroke-width="1.3" stroke-linejoin="round" stroke-linecap="round" />
<path d="M252,471 C256,465 264,461 272,461 L284,465 L282,472 Z" fill="#cfcfcf" stroke="#000" stroke-width="1" stroke-linejoin="round" stroke-linecap="round" />
<path d="M286,473 L338,495 M286,481.4 L337,499.3 M284,499.3 L322,515 M284,511.8 L307,523.4 M286,476 L340,498" stroke="#000" stroke-width="0.85" fill="none"/>
<path d="M337,492 L354,494 C357,496 359,501 359.6,506.6 L360.1,512 L344,516 L340,512 Z" fill="#cfcfcf" stroke="#000" stroke-width="0.9" stroke-linejoin="round" stroke-linecap="round" />
<path d="M346,494 L347,514 M340,512 L359,507" stroke="#000" stroke-width="0.8" fill="none"/>
<path d="M286.8,547.5 L345.5,517.1 L360,512 M286.8,561.1 L359.1,533.9 M288,552 L346,522" stroke="#000" stroke-width="0.9" fill="none"/>
<path d="M320,510 C322,503 330,500 336,502 L343,506 L344,514 L330,520 L322,518 Z" fill="#cfcfcf" stroke="#000" stroke-width="0.9" stroke-linejoin="round" stroke-linecap="round" />
<path d="M326,504 L328,512 M332,503 L334,511 M338,504 L339,511" stroke="#000" stroke-width="0.8" fill="none"/>
<path d="M306,520 C308,514 316,512 321,515 L322,524 L308,530 Z" fill="#cfcfcf" stroke="#000" stroke-width="0.9" stroke-linejoin="round" stroke-linecap="round" />
<path d="M294,528 L306,522 L310,528 L298,534 Z" fill="#cfcfcf" stroke="#000" stroke-width="0.9" stroke-linejoin="round" stroke-linecap="round" />
<rect x="297" y="526" width="6" height="3" fill="#888" stroke="#000" stroke-width="0.6" transform="rotate(-25 300 527)"/>
<path d="M288,536 C290,533 295,533 297,537 L297,545 L289,548 Z" fill="#cfcfcf" stroke="#000" stroke-width="0.9" stroke-linejoin="round" stroke-linecap="round" />
<circle cx="292" cy="541" r="2.2" fill="none" stroke="#000" stroke-width="0.8"/>
<g stroke="#000" stroke-width="0.6"><line x1="327.0" y1="530.50" x2="356" y2="517.50"/><line x1="327.3" y1="531.95" x2="356" y2="518.95"/><line x1="327.6" y1="533.40" x2="356" y2="520.40"/><line x1="327.9" y1="534.85" x2="356" y2="521.85"/><line x1="328.2" y1="536.30" x2="356" y2="523.30"/><line x1="328.5" y1="537.75" x2="356" y2="524.75"/><line x1="328.8" y1="539.20" x2="356" y2="526.20"/><line x1="329.1" y1="540.65" x2="356" y2="527.65"/><line x1="329.4" y1="542.10" x2="356" y2="529.10"/></g>
<path d="M223,459 C224,452 238,452 241,458 L241,464 L224,466 Z" fill="#cfcfcf" stroke="#000" stroke-width="1" stroke-linejoin="round" stroke-linecap="round" />
<path d="M207,431.5 C199,434 194,442 191.5,452 L188,470 L190,500 L194,514 L207,527 L276,566 L276,522 L269,522 L273,484 C273.3,481 273,479.5 272,478.8 L202.6,448.3 C202,442 204,436 207,431.5 Z" fill="#cfcfcf" stroke="#000" stroke-width="1.4" stroke-linejoin="round" stroke-linecap="round" />
<path d="M192,449.8 L272,481.3 M189.2,471.4 L260.5,502.9 M189.2,473.6 L262.6,505.2 M272.6,482 L268.9,521.8 M262.6,505.2 L268.6,507.5" stroke="#000" stroke-width="0.9" fill="none"/>
<path d="M206,433 C201,436 198,442 198.5,447" stroke="#000" stroke-width="0.9" fill="none"/>
<circle cx="195" cy="465.5" r="2.8" fill="#666" stroke="#000" stroke-width="0.9"/><circle cx="263.6" cy="495.6" r="2.8" fill="#666" stroke="#000" stroke-width="0.9"/>
<path d="M193,464 L197,467 M261.6,494 L265.6,497" stroke="#ccc" stroke-width="0.6"/>
<ellipse cx="195.3" cy="495.5" rx="1.9" ry="1.6" fill="#cfcfcf" stroke="#000" stroke-width="0.7"/>
<ellipse cx="200.6" cy="497.4" rx="1.9" ry="1.6" fill="#cfcfcf" stroke="#000" stroke-width="0.7"/>
<ellipse cx="205.9" cy="499.3" rx="1.9" ry="1.6" fill="#cfcfcf" stroke="#000" stroke-width="0.7"/>
<ellipse cx="196.2" cy="500.9" rx="1.9" ry="1.6" fill="#cfcfcf" stroke="#000" stroke-width="0.7"/>
<ellipse cx="201.5" cy="502.8" rx="1.9" ry="1.6" fill="#cfcfcf" stroke="#000" stroke-width="0.7"/>
<ellipse cx="206.8" cy="504.7" rx="1.9" ry="1.6" fill="#cfcfcf" stroke="#000" stroke-width="0.7"/>
<ellipse cx="197.1" cy="506.3" rx="1.9" ry="1.6" fill="#cfcfcf" stroke="#000" stroke-width="0.7"/>
<ellipse cx="202.4" cy="508.2" rx="1.9" ry="1.6" fill="#cfcfcf" stroke="#000" stroke-width="0.7"/>
<ellipse cx="207.7" cy="510.1" rx="1.9" ry="1.6" fill="#cfcfcf" stroke="#000" stroke-width="0.7"/>
<ellipse cx="198.0" cy="511.7" rx="1.9" ry="1.6" fill="#cfcfcf" stroke="#000" stroke-width="0.7"/>
<ellipse cx="203.3" cy="513.6" rx="1.9" ry="1.6" fill="#cfcfcf" stroke="#000" stroke-width="0.7"/>
<ellipse cx="208.6" cy="515.5" rx="1.9" ry="1.6" fill="#cfcfcf" stroke="#000" stroke-width="0.7"/>
<ellipse cx="198.9" cy="517.1" rx="1.9" ry="1.6" fill="#cfcfcf" stroke="#000" stroke-width="0.7"/>
<ellipse cx="204.2" cy="519.0" rx="1.9" ry="1.6" fill="#cfcfcf" stroke="#000" stroke-width="0.7"/>
<ellipse cx="209.5" cy="520.9" rx="1.9" ry="1.6" fill="#cfcfcf" stroke="#000" stroke-width="0.7"/>
<circle cx="201.0" cy="521.0" r="0.9" fill="#000"/>
<circle cx="205.2" cy="522.8" r="0.9" fill="#000"/>
<circle cx="209.4" cy="524.6" r="0.9" fill="#000"/>
<circle cx="213.6" cy="526.4" r="0.9" fill="#000"/>
<circle cx="217.8" cy="528.2" r="0.9" fill="#000"/>
<path d="M209,496.6 L248,513 L250,528 L256,548 L226,538 L214,515 Z" fill="none" stroke="#000" stroke-width="0.9" stroke-linejoin="round" stroke-linecap="round" />
<path d="M218.5,503 L240,512 L239.5,520 L219.5,511 Z" fill="#cfcfcf" stroke="#000" stroke-width="0.9" stroke-linejoin="round" stroke-linecap="round" />
<g stroke="#000" stroke-width="0.6"><line x1="219.5" y1="504.0" x2="239.5" y2="512.6"/><line x1="219.5" y1="505.6" x2="239.5" y2="514.2"/><line x1="219.5" y1="507.2" x2="239.5" y2="515.8000000000001"/><line x1="219.5" y1="508.8" x2="239.5" y2="517.4"/><line x1="219.5" y1="510.4" x2="239.5" y2="519.0"/></g>
<path d="M213,499 L222,533 M248,513 L240,519" stroke="#000" stroke-width="0.7" fill="none"/>
<circle cx="221.0" cy="522.0" r="1.1" fill="#000"/>
<circle cx="227.8" cy="524.6" r="1.1" fill="#000"/>
<circle cx="234.6" cy="527.2" r="1.1" fill="#000"/>
<circle cx="241.4" cy="529.8" r="1.1" fill="#000"/>
<circle cx="221.8" cy="526.5" r="1.1" fill="#000"/>
<circle cx="228.6" cy="529.1" r="1.1" fill="#000"/>
<circle cx="235.4" cy="531.7" r="1.1" fill="#000"/>
<circle cx="242.2" cy="534.3" r="1.1" fill="#000"/>
<circle cx="222.6" cy="531.0" r="1.1" fill="#000"/>
<circle cx="229.4" cy="533.6" r="1.1" fill="#000"/>
<circle cx="236.2" cy="536.2" r="1.1" fill="#000"/>
<circle cx="243.0" cy="538.8" r="1.1" fill="#000"/>
<circle cx="223.4" cy="535.5" r="1.1" fill="#000"/>
<circle cx="230.2" cy="538.1" r="1.1" fill="#000"/>
<circle cx="237.0" cy="540.7" r="1.1" fill="#000"/>
<circle cx="243.8" cy="543.3" r="1.1" fill="#000"/>
<ellipse cx="236" cy="543" rx="7.5" ry="5" fill="#cfcfcf" stroke="#000" stroke-width="0.8"/>
<ellipse cx="225" cy="535" rx="2.5" ry="1.6" fill="#cfcfcf" stroke="#000" stroke-width="0.7"/><ellipse cx="250" cy="548" rx="2.5" ry="1.6" fill="#cfcfcf" stroke="#000" stroke-width="0.7"/>
<ellipse cx="254" cy="527.5" rx="2" ry="2.6" fill="none" stroke="#000" stroke-width="0.9"/><ellipse cx="259" cy="540.5" rx="1.8" ry="2" fill="none" stroke="#000" stroke-width="0.8"/><ellipse cx="264" cy="552.5" rx="3.6" ry="4" fill="none" stroke="#000" stroke-width="0.9"/><path d="M262,550 L266,555" stroke="#000" stroke-width="0.7"/>
<path d="M275,566 L275,471 C276,464 279,459 282,458 C285,460 286,463 286,467 L287,566 Z" fill="#cfcfcf" stroke="#000" stroke-width="1.3" stroke-linejoin="round" stroke-linecap="round" />
<path d="M249,448 L258,441 L258,444 C266,438 276,436 285,437 L287,443 C278,442 270,443 260,447 L261,450 Z" fill="#000" stroke="#000" stroke-width="0.6" stroke-linejoin="round" stroke-linecap="round" />
<path d="M350,516 L374,525 M350,518 L364,539" stroke="#000" stroke-width="1" fill="none"/>
<rect x="347" y="514" width="4" height="4" fill="#fff" stroke="#000" stroke-width="0.8"/>
<defs><clipPath id="ic"><circle cx="404.6" cy="555.6" r="42.8"/></clipPath><clipPath id="hc"><path d="M356,548 L397,536 C394.5,545 395,556 402,564 C407,570 414,576 420,579 C421,586 419,592 416,602 L356,602 Z"/></clipPath></defs>
<g clip-path="url(#ic)">
<rect x="358" y="510" width="92" height="92" fill="#cfcfcf"/>
<path d="M428.4,521 L428.4,558 L452,562 L452,505 L425,505 Z" fill="#fff" stroke="none"/>
<path d="M428.4,521.8 L428.4,558" stroke="#000" stroke-width="1" fill="none"/>
<path d="M360,544 L430,514 M360,546.5 L430,516.5 M384.4,519.5 L384.4,530 M384.4,519.5 L393,524 M418,512 L418,522 L424,519" stroke="#000" stroke-width="0.9" fill="none"/>
<g stroke="#000" stroke-width="0.9" clip-path="url(#hc)"><line x1="358" y1="563.0" x2="440" y2="525.0"/><line x1="358" y1="568.2" x2="440" y2="530.2"/><line x1="358" y1="573.4" x2="440" y2="535.4"/><line x1="358" y1="578.6" x2="440" y2="540.6"/><line x1="358" y1="583.8" x2="440" y2="545.8"/><line x1="358" y1="589.0" x2="440" y2="551.0"/><line x1="358" y1="594.2" x2="440" y2="556.2"/><line x1="358" y1="599.4" x2="440" y2="561.4"/><line x1="358" y1="604.6" x2="440" y2="566.6"/></g>
<path d="M397,539 C394.5,545 395,556 402,564 C407,570 414,576 420,579 C428,584 440,588 452,590 L452,563 C445,561.5 436,561 428.4,559.5 C422,557.5 418,553 414,549 C410,543 408,538 405.3,536.4 Z" fill="#fff" stroke="#000" stroke-width="1.1" stroke-linejoin="round" stroke-linecap="round" />
<path d="M418,580 C421,586 419,592 416,600 L452,604 L452,592 C440,589 428,585 418,580 Z" fill="#fff" stroke="#000" stroke-width="1.1" stroke-linejoin="round" stroke-linecap="round" />
<path d="M399,541 C397,548 399,554 404,556 C408,556.5 411,553 412,550 M409,552 L412,549 M417,559 L413,565 M420,558 L416,564 M414,588 C413,592 414,596 416,598" stroke="#000" stroke-width="0.8" fill="none"/>
<path d="M393.8,533 L400,530.8 L405,532.5 L405.3,537 L399,539.3 L394,537.5 Z" fill="#f4f4f4" stroke="#000" stroke-width="0.9" stroke-linejoin="round" stroke-linecap="round" />
<path d="M393.8,533 L399,535 L405,532.5 M399,535 L399,539.3" stroke="#000" stroke-width="0.7" fill="none"/>
<path d="M413,530 L426,530.5 L424.5,534 L441,540.5 L437.5,547.5 L421,540.5 L418.5,544 Z" fill="#000" stroke="#000" stroke-width="0.6" stroke-linejoin="round" stroke-linecap="round" />
</g>
<circle cx="404.6" cy="555.6" r="42.8" fill="none" stroke="#000" stroke-width="1.4"/>
<line x1="400.6" y1="480" x2="400.6" y2="534" stroke="#000" stroke-width="1"/>
<circle cx="400.5" cy="473.6" r="6.7" fill="#fff" stroke="#000" stroke-width="1.15"/>
<path d="M398.81,471.73 C399.80,471.24 400.36,470.42 400.46,469.60 L401.75,469.60 L401.75,477.80 L400.36,477.80 L400.36,472.06 C399.91,472.55 399.25,472.88 398.81,473.04 Z" fill="#000"/>
<path d="M559,312 C548,318 527,325 522,334 C518,343 527,346 534,342 C543,336 552,326 558,319" fill="none" stroke="#000" stroke-width="5" stroke-linecap="round"/>
<path d="M559,312 C548,318 527,325 522,334 C518,343 527,346 534,342 C543,336 552,326 558,319" fill="none" stroke="#bdbdbd" stroke-width="3.2" stroke-dasharray="0.9 1.1"/>
<path d="M566,306 L567,320 L572,334 L658,382 L668,383 L742,334 L742,300 L731,289 L650,261 L617,266 L598,273 Z" fill="#cfcfcf" stroke="#000" stroke-width="1.5" stroke-linejoin="round" stroke-linecap="round" />
<path d="M570,326 L662,377 L742,326 M579,336 L600,347 M606,350 L652,375 M568,318 L576,328" stroke="#000" stroke-width="0.9" fill="none"/>
<path d="M604,351 L606,356 M655,376 L658,381" stroke="#000" stroke-width="1.2" fill="none"/>
<path d="M617,266 C608,269 603,275 603,281 C625,286 655,294 678,298.5 L719,304.5 L718,301 L731,289 L650,261 Z" fill="#cfcfcf" stroke="#000" stroke-width="1" stroke-linejoin="round" stroke-linecap="round" />
<path d="M620,263.5 L721,295.5" stroke="#000" stroke-width="0.9" fill="none"/>
<path d="M705,322 L718,301 L722,303 L708,324 Z" fill="#cfcfcf" stroke="#000" stroke-width="0.9" stroke-linejoin="round" stroke-linecap="round" />
<path d="M603,281 C625,286 655,294 678,298.5 L719,304.5 L704,325 L683,355 L667,371 L583,327 L574,317 C580,305 590,292 603,281 Z" fill="#cfcfcf" stroke="#000" stroke-width="1" stroke-linejoin="round" stroke-linecap="round" />
<g stroke="#000" stroke-width="0.7" fill="none"><path d="M624,290 L600,321 M625.5,290.5 L601.5,321.5 M627,291 L603,322"/></g>
<path d="M624,292 C626,290 630,290 633,291 L672,308 C675,310 675,312 673,315 L645,350 C643,352 640,352 637,351 L604,338 C601,336 600,334 602,331 Z" fill="none" stroke="#000" stroke-width="0.9" stroke-linejoin="round" stroke-linecap="round" />
<path d="M674,310 L639,355 M676,311 L641,356 M678,312 L643,357" stroke="#000" stroke-width="0.7" fill="none"/>
<path d="M708,324 L722,303 L731,289 L742,300 L742,334 L668,383 L683,356 Z" fill="#cfcfcf" stroke="#000" stroke-width="1" stroke-linejoin="round" stroke-linecap="round" />
<g stroke="#000" stroke-width="0.8"><line x1="715" y1="327.0" x2="739" y2="313.0"/><line x1="715" y1="329.2" x2="739" y2="315.2"/><line x1="715" y1="331.4" x2="739" y2="317.4"/><line x1="715" y1="333.6" x2="739" y2="319.6"/><line x1="715" y1="335.8" x2="739" y2="321.8"/><line x1="715" y1="338.0" x2="739" y2="324.0"/><line x1="715" y1="340.2" x2="739" y2="326.2"/><line x1="715" y1="342.4" x2="739" y2="328.4"/><line x1="715" y1="344.6" x2="739" y2="330.6"/><line x1="715" y1="346.8" x2="739" y2="332.8"/><line x1="715" y1="349.0" x2="739" y2="335.0"/></g>
<rect x="735" y="306" width="4" height="4" fill="#cfcfcf" stroke="#000" stroke-width="0.7"/>
<path d="M628,298 L657,309 L653,317 L624,306 Z" fill="#cfcfcf" stroke="#000" stroke-width="0.9" stroke-linejoin="round" stroke-linecap="round" />
<path d="M629,301 L655,311 M627,304 L653,314" stroke="#000" stroke-width="0.6" fill="none"/>
<ellipse cx="599.6" cy="286.0" rx="3.1" ry="2.5" fill="#cfcfcf" stroke="#000" stroke-width="0.9"/>
<ellipse cx="606.7" cy="289.1" rx="3.1" ry="2.5" fill="#cfcfcf" stroke="#000" stroke-width="0.9"/>
<ellipse cx="613.8" cy="292.2" rx="3.1" ry="2.5" fill="#cfcfcf" stroke="#000" stroke-width="0.9"/>
<ellipse cx="593.6" cy="291.8" rx="3.1" ry="2.5" fill="#cfcfcf" stroke="#000" stroke-width="0.9"/>
<ellipse cx="600.7" cy="294.9" rx="3.1" ry="2.5" fill="#cfcfcf" stroke="#000" stroke-width="0.9"/>
<ellipse cx="607.8" cy="298.0" rx="3.1" ry="2.5" fill="#cfcfcf" stroke="#000" stroke-width="0.9"/>
<ellipse cx="587.5" cy="297.5" rx="3.1" ry="2.5" fill="#cfcfcf" stroke="#000" stroke-width="0.9"/>
<ellipse cx="594.6" cy="300.6" rx="3.1" ry="2.5" fill="#cfcfcf" stroke="#000" stroke-width="0.9"/>
<ellipse cx="601.7" cy="303.7" rx="3.1" ry="2.5" fill="#cfcfcf" stroke="#000" stroke-width="0.9"/>
<ellipse cx="581.5" cy="303.3" rx="3.1" ry="2.5" fill="#cfcfcf" stroke="#000" stroke-width="0.9"/>
<ellipse cx="588.6" cy="306.4" rx="3.1" ry="2.5" fill="#cfcfcf" stroke="#000" stroke-width="0.9"/>
<ellipse cx="595.7" cy="309.5" rx="3.1" ry="2.5" fill="#cfcfcf" stroke="#000" stroke-width="0.9"/>
<ellipse cx="576" cy="310.3" rx="1.9" ry="1.6" fill="#cfcfcf" stroke="#000" stroke-width="0.8"/>
<ellipse cx="581.5" cy="313.5" rx="1.9" ry="1.6" fill="#cfcfcf" stroke="#000" stroke-width="0.8"/>
<ellipse cx="586.3" cy="315.8" rx="1.9" ry="1.6" fill="#cfcfcf" stroke="#000" stroke-width="0.8"/>
<ellipse cx="591.8" cy="318.2" rx="1.9" ry="1.6" fill="#cfcfcf" stroke="#000" stroke-width="0.8"/>
<g stroke="#000" stroke-width="0.8" fill="none"><path d="M606.0,309.0 L656,326"/><path d="M606.6,314.5 L654,332"/><path d="M607.2,320.0 L652,338"/><path d="M607.8,325.5 L650,344"/><path d="M608.4,331.0 L648,350"/><path d="M616.0,311.0 L607.0,334.0"/><path d="M626.5,314.6 L617.5,337.6"/><path d="M637.0,318.2 L628.0,341.2"/><path d="M647.5,321.8 L638.5,344.8"/><path d="M658.0,325.4 L649.0,348.4"/></g>
<ellipse cx="616.0" cy="314.0" rx="1.7" ry="1.3" fill="#cfcfcf" stroke="#000" stroke-width="0.8"/>
<ellipse cx="626.5" cy="317.6" rx="1.7" ry="1.3" fill="#cfcfcf" stroke="#000" stroke-width="0.8"/>
<ellipse cx="637.0" cy="321.2" rx="1.7" ry="1.3" fill="#cfcfcf" stroke="#000" stroke-width="0.8"/>
<ellipse cx="647.5" cy="324.8" rx="1.7" ry="1.3" fill="#cfcfcf" stroke="#000" stroke-width="0.8"/>
<ellipse cx="613.5" cy="320.0" rx="1.7" ry="1.3" fill="#cfcfcf" stroke="#000" stroke-width="0.8"/>
<ellipse cx="624.0" cy="323.6" rx="1.7" ry="1.3" fill="#cfcfcf" stroke="#000" stroke-width="0.8"/>
<ellipse cx="634.5" cy="327.2" rx="1.7" ry="1.3" fill="#cfcfcf" stroke="#000" stroke-width="0.8"/>
<ellipse cx="645.0" cy="330.8" rx="1.7" ry="1.3" fill="#cfcfcf" stroke="#000" stroke-width="0.8"/>
<ellipse cx="611.0" cy="326.0" rx="1.7" ry="1.3" fill="#cfcfcf" stroke="#000" stroke-width="0.8"/>
<ellipse cx="621.5" cy="329.6" rx="1.7" ry="1.3" fill="#cfcfcf" stroke="#000" stroke-width="0.8"/>
<ellipse cx="632.0" cy="333.2" rx="1.7" ry="1.3" fill="#cfcfcf" stroke="#000" stroke-width="0.8"/>
<ellipse cx="642.5" cy="336.8" rx="1.7" ry="1.3" fill="#cfcfcf" stroke="#000" stroke-width="0.8"/>
<ellipse cx="616" cy="333.5" rx="8.4" ry="6" fill="#cfcfcf" stroke="#000" stroke-width="0.9"/>
<ellipse cx="602.5" cy="327.3" rx="3.2" ry="2.1" fill="#cfcfcf" stroke="#000" stroke-width="0.9"/><ellipse cx="629.3" cy="341.5" rx="3.5" ry="2.3" fill="#cfcfcf" stroke="#000" stroke-width="0.9"/>
<ellipse cx="672.8" cy="323.1" rx="3.8" ry="3" fill="#cfcfcf" stroke="#000" stroke-width="1.2"/><ellipse cx="672.8" cy="323.1" rx="2" ry="1.6" fill="none" stroke="#000" stroke-width="0.7"/><ellipse cx="662.9" cy="335.5" rx="3" ry="2.3" fill="#cfcfcf" stroke="#000" stroke-width="0.9"/>
<ellipse cx="655" cy="346" rx="6.5" ry="5" fill="#cfcfcf" stroke="#000" stroke-width="1"/><ellipse cx="663" cy="347" rx="3.3" ry="2.8" fill="#cfcfcf" stroke="#000" stroke-width="0.9"/><ellipse cx="654" cy="345.5" rx="3.6" ry="3" fill="none" stroke="#000" stroke-width="0.7"/>
<ellipse cx="568" cy="325" rx="3" ry="2.8" fill="#cfcfcf" stroke="#000" stroke-width="0.8"/><path d="M566,322 L570,330" stroke="#000" stroke-width="0.7"/>
<circle cx="708" cy="299" r="1.6" fill="#333"/>
<g stroke="#000" stroke-width="0.7" fill="none"><path d="M573.1,302.6 L607.5,274.1 M574.0,303.7 L608.4,275.2 M574.9,304.8 L609.3,276.2"/></g>
<path d="M600,255 C606,253.5 612,254 615.5,256.5 C618,258.5 618.5,261 617.5,263.5 L562,309.5 C558,310.5 555,308.5 554.5,305 C554,302 554.2,300.5 555,299 Q569.5,270 600,255 Z" fill="#cfcfcf" stroke="#000" stroke-width="1.4" stroke-linejoin="round" stroke-linecap="round" />
<path d="M603,266 L615,260 M566,305 L606,271 L616,264" stroke="#000" stroke-width="0.8" fill="none"/>
<path d="M600,216 C612,228 622,236 634,243 C640,250 644,258 646,264 C648,268 652,269 654,266 C654,262 652,258 648,256 L640,262 C632,264 624,262 616,252 L614,249 L608,252 C604,244 598,238 587,236 Z" fill="#fff" stroke="none"/>
<path d="M600,216 C612,228 622,236 634,243 C640,250 644,258 646,264 C648,268 652,269 654,266 C654,262 652,258 648,256" fill="none" stroke="#000" stroke-width="1"/>
<path d="M587,236 C598,238 604,244 607,252" fill="none" stroke="#000" stroke-width="1"/>
<path d="M614,249 C618,254 624,260 636,264 C640,265 643,266 646,264 M640,262 L645,268" stroke="#000" stroke-width="0.8" fill="none"/>
<path d="M793,280 C780,282 770,284 760,282 C750,280 742,282 731,289 C722,290 719,294 722,296 C726,298 732,297 735,299 L760,301 L766,307 C775,306 784,305 791,305 Z" fill="#fff" stroke="none"/>
<path d="M793,280 C780,282 770,284 760,282 C750,280 742,282 731,289 C724,289.5 720,292 721,295 C723,298 729,297 734,299 C744,300.5 752,301 761,301" fill="none" stroke="#000" stroke-width="1"/>
<path d="M766,307 C775,306 784,304.5 791,304.5" fill="none" stroke="#000" stroke-width="1"/>
<path d="M724,292 C726,295 729,296 731,296" fill="none" stroke="#000" stroke-width="0.7"/>
<ellipse cx="747" cy="305" rx="3.2" ry="2.6" fill="#fff" stroke="#000" stroke-width="0.9"/>
<ellipse cx="752" cy="308.5" rx="3.4" ry="2.8" fill="#fff" stroke="#000" stroke-width="0.9"/>
<ellipse cx="757.5" cy="311" rx="3.4" ry="3" fill="#fff" stroke="#000" stroke-width="0.9"/>
<ellipse cx="762" cy="312" rx="2.6" ry="3.3" fill="#fff" stroke="#000" stroke-width="0.9"/>
<path d="M186,990 L190,1008 L201,1025 L300,1073 C308,1077 318,1078 324,1071 L400,963 C402,960 402,958 402,955 L402,935 C402,928 399,923 394,921 L378,914 L290,912 L270,930 Z" fill="#cfcfcf" stroke="#000" stroke-width="1.6" stroke-linejoin="round" stroke-linecap="round" />
<path d="M190,994 L250,1007 L318,1032 M192,1000 L250,1013 L320,1039 M199,1018 L320,1064 M323,1034 L323,1071" stroke="#000" stroke-width="0.9" fill="none"/>
<path d="M318,1032 C322,1030 326,1028 330,1022 L398,925 M323,1034 L400,934" stroke="#000" stroke-width="0.9" fill="none"/>
<path d="M326,1011 L382,946 L390,950 L334,1016 Z" fill="#cfcfcf" stroke="#000" stroke-width="0.9" stroke-linejoin="round" stroke-linecap="round" />
<path d="M337,1043 L337,1010 L359,986 L359,1018 Z" fill="#cfcfcf" stroke="#000" stroke-width="0.9" stroke-linejoin="round" stroke-linecap="round" />
<path d="M325,1060 L335,1048 L338,1054 L328,1066 Z" fill="#aaa" stroke="#000" stroke-width="0.9" stroke-linejoin="round" stroke-linecap="round" />
<path d="M346,1004 L352,998 L356,1000 L353,1006 Z" fill="#cfcfcf" stroke="#000" stroke-width="0.8" stroke-linejoin="round" stroke-linecap="round" />
<path d="M379,962 L385,956 L389,958 L386,964 Z" fill="#cfcfcf" stroke="#000" stroke-width="0.8" stroke-linejoin="round" stroke-linecap="round" />
<g stroke="#000" stroke-width="1"><line x1="268" y1="1027.0" x2="305" y2="1042.0"/><line x1="268" y1="1030.1" x2="305" y2="1045.3"/><line x1="268" y1="1033.2" x2="305" y2="1048.6"/><line x1="268" y1="1036.3" x2="305" y2="1051.9"/><line x1="268" y1="1039.4" x2="305" y2="1055.2"/><line x1="268" y1="1042.5" x2="305" y2="1058.5"/><line x1="268" y1="1045.6" x2="305" y2="1061.8"/><line x1="268" y1="1048.7" x2="305" y2="1065.1"/><line x1="268" y1="1051.8" x2="305" y2="1068.4"/></g>
<rect x="293" y="1029" width="6" height="5" fill="#cfcfcf" stroke="#000" stroke-width="0.8" transform="rotate(20 296 1031)"/>
<path d="M199,985 L278,915 M204,990 L284,918 M212,996 L292,922 M226,1000 L300,930" stroke="#000" stroke-width="0.9" fill="none"/>
<path d="M256.3,991.8 L323,922.6 C329,918 339,921 343,929 L284,998 C281,990 270,984 256.3,991.8 Z" fill="#cfcfcf" stroke="#000" stroke-width="1" stroke-linejoin="round" stroke-linecap="round" />
<path d="M286.5,998 L345.6,930 C352,926 363,928 368.2,933.9 L310.4,1004.3 C306,996 296,992 286.5,998 Z" fill="#cfcfcf" stroke="#000" stroke-width="1" stroke-linejoin="round" stroke-linecap="round" />
<path d="M256.3,991.8 C252,996 254,1000 258,1002 M286.5,998 C284,1001 285,1004 288,1006" stroke="#000" stroke-width="0.8" fill="none"/>
<path d="M326,920 L327,916 M333,919 L334,915 M356,931 L357,927 M360,931 L362,927" stroke="#000" stroke-width="0.8" fill="none"/>
<path d="M311.6,1010.6 L369.5,939 M314.5,1014 L372.5,943 M318,1019 L377,946 M323,1026 L386,950 M328,1030 L392,952" stroke="#000" stroke-width="0.9" fill="none"/>
<circle cx="294" cy="1011" r="2.8" fill="#cfcfcf" stroke="#000" stroke-width="0.9"/><circle cx="299" cy="1013" r="2.8" fill="#cfcfcf" stroke="#000" stroke-width="0.9"/><circle cx="312" cy="1020" r="2.3" fill="#cfcfcf" stroke="#000" stroke-width="0.8"/>
<path d="M296,1015 L297,1028 M303,1017 L304,1030" stroke="#000" stroke-width="0.8" fill="none"/>
<path d="M239,987 L297,925 L301,928 L243,991 Z" fill="#fff" stroke="#000" stroke-width="0.9" stroke-linejoin="round" stroke-linecap="round" />
<path d="M214,969 L240,946 L243,949 L217,972 Z" fill="#fff" stroke="#000" stroke-width="0.8" stroke-linejoin="round" stroke-linecap="round" />
<path d="M265,968 L284,950 L287,953 L268,971 Z" fill="#fff" stroke="#000" stroke-width="0.8" stroke-linejoin="round" stroke-linecap="round" />
<path d="M258,955 L270,944 L272,946 L260,957 Z" fill="#cfcfcf" stroke="#000" stroke-width="0.8" stroke-linejoin="round" stroke-linecap="round" />
<path d="M211,993 C218,986 236,985 250.6,1001.3 L250.6,1004.5 L213,998 Z" fill="#cfcfcf" stroke="#000" stroke-width="0.9" stroke-linejoin="round" stroke-linecap="round" />
<rect x="227" y="989" width="10" height="3" rx="1.5" fill="#777" stroke="#000" stroke-width="0.7" transform="rotate(12 232 990.5)"/>
<path d="M282,898 C290,888 310,881 333,880 C355,880 372,882 378,887 C381,890 381,894 380,898 L382,912 C375,917 368,918 364,918 L292,912 Z" fill="#cfcfcf" stroke="#000" stroke-width="1.4" stroke-linejoin="round" stroke-linecap="round" />
<path d="M284,905 C300,897 330,893 350,895 L356,898 C362,901 370,902 378,900 M292,912 C320,905 350,906 378,908 M375,887 L374,898 M356,898 L358,904" stroke="#000" stroke-width="0.8" fill="none"/>
<path d="M272,902 C276,908 280,914 286,916 L290,912 C284,910 280,904 278,898 Z" fill="#fff" stroke="#000" stroke-width="0.9" stroke-linejoin="round" stroke-linecap="round" />
<circle cx="285" cy="914" r="2.3" fill="#333"/>
<path d="M268,814 C264,814 261,816 258,818 L168,895 C165,898 163.5,901 163.3,905 L163.1,917 L156,925 C154.8,928 154.5,933 155,941 C157,952 160,962 164,969 C168,980 172,990 177,997 C181,1005 186,1012 195,1018 L198,1015 L197,993 L203,984 L275,920 L276,912 L271,852 L272,832 C273,826 274,820 271,817 C270,815 269,814 268,814 Z" fill="#cfcfcf" stroke="none"/>
<path d="M198,1015 L195,1018 C186,1012 181,1005 177,997 C172,990 168,980 164,969 C160,962 157,952 155,941 C154.5,933 154.8,928 156,925 L163.1,917 L163.3,905 C163.5,901 165,898 168,895 L258,818 C261,816 264,814 268,814 C269,814 270,815 271,817 C274,820 273,826 272,832 L271,852 L276,912" fill="none" stroke="#000" stroke-width="1.5" stroke-linejoin="round"/>
<path d="M197,993 L203,984 L275,920" fill="none" stroke="#000" stroke-width="0.9"/>
<path d="M167.8,897.3 C171,897 176,898 179.4,901 M173,906 C172.5,912 172.5,925 173,940 C174,955 178,968 182,978 C186,994 190,1006 195,1016" stroke="#000" stroke-width="0.9" fill="none"/>
<path d="M174,925 C175,950 179,966 183,978 C187,994 191,1006 196,1015" stroke="#000" stroke-width="2" stroke-dasharray="0.9 1.1" fill="none"/>
<path d="M163.9,919.8 L163.9,926 L155.4,934.5" stroke="#000" stroke-width="0.8" fill="none"/>
<path d="M171.5,899.5 L259.5,821.5 C263,818.5 268,818.5 269,822 M262,836 C261,828 262,823 265,821" stroke="#000" stroke-width="0.9" fill="none"/>
<g stroke="#000" stroke-width="0.85" fill="none"><path d="M175,897 L258.7,838.5 M175,899.6 L260.4,842.7 M175,914.7 L260.4,848.5 M175,918.4 L260.4,854.4 M180,932 L269,874 M182,950 L271,892 M184,958 L272,900 M188,975 L274,918"/></g>
<path d="M199.5,979 L270.5,917.5 L273.5,920.5 L202.5,983 Z" fill="#fff" stroke="#000" stroke-width="0.9" stroke-linejoin="round" stroke-linecap="round" />
<path d="M195,976.6 L268,913 M190,970 L266,904" stroke="#000" stroke-width="0.85" fill="none"/>
<path d="M187,899.5 L191,894.5 L194,903.5 L190,905.5 Z" fill="#cfcfcf" stroke="#000" stroke-width="0.8"/>
<circle cx="190" cy="898.5" r="1.8" fill="#888" stroke="#000" stroke-width="0.7"/>
<path d="M202,889 L206,884 L209,893 L205,895 Z" fill="#cfcfcf" stroke="#000" stroke-width="0.8"/>
<circle cx="205" cy="888" r="1.8" fill="#888" stroke="#000" stroke-width="0.7"/>
<path d="M215,879.5 L219,874.5 L222,883.5 L218,885.5 Z" fill="#cfcfcf" stroke="#000" stroke-width="0.8"/>
<circle cx="218" cy="878.5" r="1.8" fill="#888" stroke="#000" stroke-width="0.7"/>
<path d="M234,866 L238,861 L241,870 L237,872 Z" fill="#cfcfcf" stroke="#000" stroke-width="0.8"/>
<circle cx="237" cy="865" r="1.8" fill="#888" stroke="#000" stroke-width="0.7"/>
<path d="M246,852 L250,847 L253,856 L249,858 Z" fill="#cfcfcf" stroke="#000" stroke-width="0.8"/>
<circle cx="249" cy="851" r="1.8" fill="#888" stroke="#000" stroke-width="0.7"/>
<path d="M179.4,912 L188,906 L193,911 L190,916 L182,920 Z" fill="#cfcfcf" stroke="#000" stroke-width="0.9" stroke-linejoin="round" stroke-linecap="round" />
<ellipse cx="178.6" cy="918.5" rx="3.6" ry="4.6" fill="#cfcfcf" stroke="#000" stroke-width="0.9"/><ellipse cx="178.6" cy="918.5" rx="1.8" ry="2.4" fill="none" stroke="#000" stroke-width="0.7"/>
<path d="M176,904 L184,899 L190,905 M176,908 L181,905" stroke="#000" stroke-width="0.8" fill="none"/>
<path d="M211.9,905.2 L227,892.6 L228.7,907.7 L224.5,910 L223.5,906 L219.5,908.5 L220.5,913 L212.5,918.6 Z" fill="#cfcfcf" stroke="#000" stroke-width="0.9" stroke-linejoin="round" stroke-linecap="round" />
<path d="M212,920.5 L229,910 M212.5,922 L229.5,911.5" stroke="#000" stroke-width="1.4" stroke-dasharray="0.8 0.9" fill="none"/>
<path d="M240,880 L260,868 M242,888 L262,876 M203,925 L232,904 M205,934 L246,903" stroke="#000" stroke-width="0.8" fill="none"/>
<path d="M186.5,944 L205,929 L207.5,932 L189,947.5 Z" fill="#cfcfcf" stroke="#000" stroke-width="0.8" stroke-linejoin="round" stroke-linecap="round" />
<path d="M218.6,929 L236,917 L244.6,931 L226.5,943.7 Z" fill="#cfcfcf" stroke="#000" stroke-width="0.9" stroke-linejoin="round" stroke-linecap="round" />
<path d="M221,930 L236,920 M224,936 L228,942" stroke="#000" stroke-width="0.7" fill="none"/>
<circle cx="192" cy="951" r="1.8" fill="none" stroke="#000" stroke-width="0.7"/><circle cx="198" cy="947" r="1.2" fill="none" stroke="#000" stroke-width="0.6"/><circle cx="201" cy="945" r="1.2" fill="none" stroke="#000" stroke-width="0.6"/>
<path d="M208,940 C210,937 213,938 212,941 C211,943 209,944 208,940 Z" fill="#333"/>
<circle cx="210" cy="944" r="1.6" fill="#555"/><circle cx="236" cy="911" r="1.8" fill="none" stroke="#000" stroke-width="0.7"/><circle cx="261" cy="890" r="1.8" fill="none" stroke="#000" stroke-width="0.7"/>
<circle cx="194" cy="985" r="4" fill="#cfcfcf" stroke="#000" stroke-width="1"/><circle cx="193" cy="986" r="2" fill="none" stroke="#000" stroke-width="0.8"/>
<path d="M186,965 L190,963 L192,968 M185,977 L191,974" stroke="#000" stroke-width="0.8" fill="none"/>
<path d="M263,860 L275,862 L276,870 L264,868 Z" fill="#cfcfcf" stroke="#000" stroke-width="0.9" stroke-linejoin="round" stroke-linecap="round" />
<path d="M250,845 L258,838.5 L268,841 L269.6,851 L262,857 L252,853.6 Z" fill="#cfcfcf" stroke="#000" stroke-width="0.9" stroke-linejoin="round" stroke-linecap="round" />
<circle cx="260.4" cy="847" r="2.3" fill="#999" stroke="#000" stroke-width="0.8"/>
<path d="M227,929 L235.5,924.5 L240.4,932.5 L231.5,937.5 Z" fill="#fff" stroke="#000" stroke-width="0.8" stroke-linejoin="round" stroke-linecap="round" />
<line x1="234.1" y1="820" x2="234.1" y2="929" stroke="#555" stroke-width="1"/>
<circle cx="234.1" cy="813.4" r="6.7" fill="#fff" stroke="#000" stroke-width="1.15"/>
<text x="231.45" y="817.60" font-family="Liberation Sans, sans-serif" font-size="11.45" font-weight="bold" fill="#000" stroke="#000" stroke-width="0.3" textLength="5.3" lengthAdjust="spacingAndGlyphs">2</text>
<path d="M348.5,855 L257,925.5 M349.5,856 L280.5,955" stroke="#000" stroke-width="0.9" fill="none"/>
<circle cx="354.1" cy="848.1" r="6.7" fill="#fff" stroke="#000" stroke-width="1.15"/>
<path d="M352.41,846.23 C353.40,845.74 353.96,844.92 354.06,844.10 L355.35,844.10 L355.35,852.30 L353.96,852.30 L353.96,846.56 C353.51,847.05 352.85,847.38 352.41,847.54 Z" fill="#000"/>
<line x1="208.4" y1="971" x2="208.4" y2="1078" stroke="#000" stroke-width="1.1"/>
<circle cx="208.3" cy="1085.4" r="6.7" fill="#fff" stroke="#000" stroke-width="1.15"/>
<text x="205.65" y="1089.60" font-family="Liberation Sans, sans-serif" font-size="11.45" font-weight="bold" fill="#000" stroke="#000" stroke-width="0.3" textLength="5.3" lengthAdjust="spacingAndGlyphs">3</text>
<line x1="248.7" y1="979" x2="248.7" y2="1078" stroke="#000" stroke-width="1.1"/>
<circle cx="248.7" cy="1085.4" r="6.7" fill="#fff" stroke="#000" stroke-width="1.15"/>
<text x="246.05" y="1089.60" font-family="Liberation Sans, sans-serif" font-size="11.45" font-weight="bold" fill="#000" stroke="#000" stroke-width="0.3" textLength="5.3" lengthAdjust="spacingAndGlyphs">4</text>
</svg>
</body></html>
